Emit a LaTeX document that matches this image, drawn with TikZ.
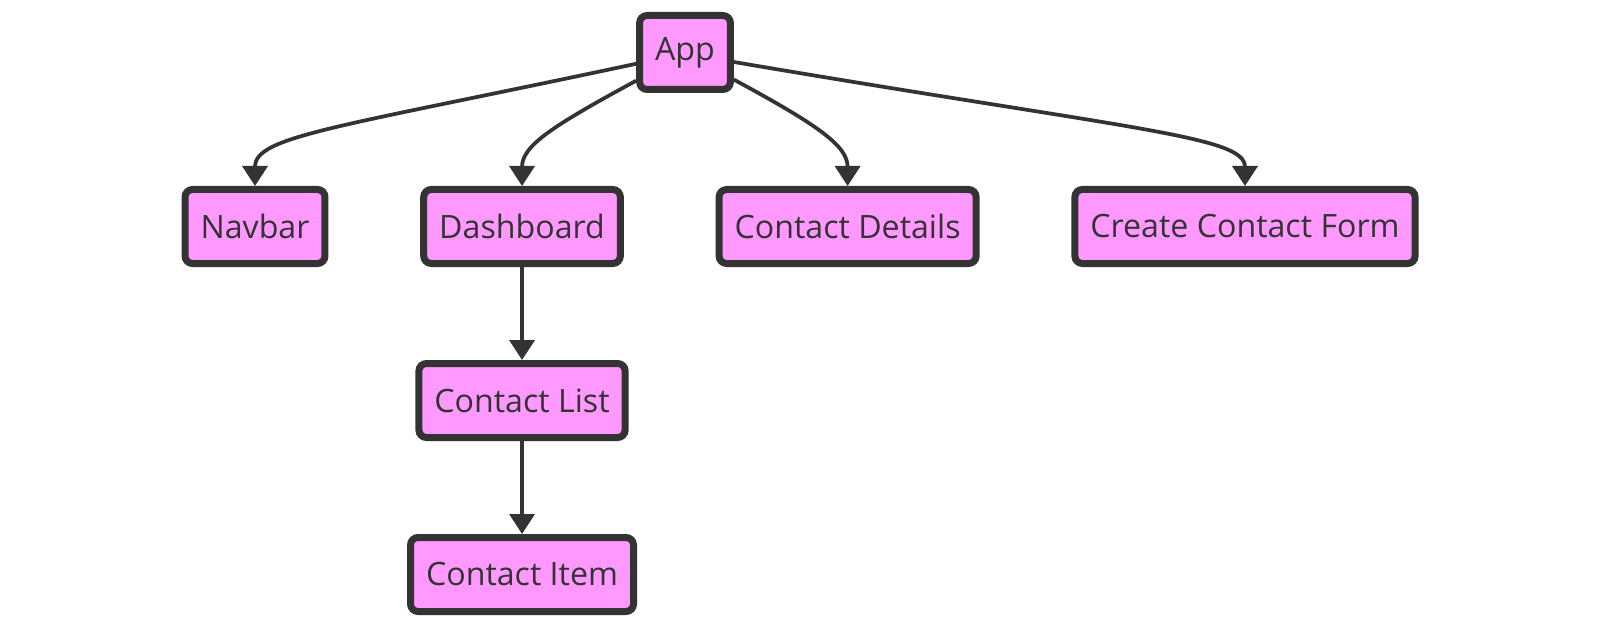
\documentclass[tikz,border=0pt]{standalone}
\usepackage{fontspec}
\setmainfont{Open Sans}
\usepackage{xcolor}
\usepackage{tikz}
\usetikzlibrary{positioning,arrows.meta}
\definecolor{cmpfill}{HTML}{FF99FF}
\definecolor{cmpdark}{HTML}{333333}

\begin{document}
\begin{tikzpicture}[
   node distance=1.86cm and 1.835cm,
   comp/.style={draw=cmpdark, line width=0.14cm, rounded corners=0.15cm,
                fill=cmpfill, minimum height=1.48cm, inner xsep=0.31cm,
                text=cmpdark, font=\fontsize{18.3}{22}\selectfont},
   link/.style={draw=cmpdark, line width=0.075cm, ->},
   >={Triangle[width=0.5cm, length=0.4cm]}]
  \useasboundingbox (0,0) rectangle (32,-12.56);
  \node[comp] (app) at (13.70,-1.05) {App};
  \node[comp] (navbar) at (5.10,-4.53) {Navbar};
  \node[comp, right=of navbar] (dash) {Dashboard};
  \node[comp, right=of dash] (details) {Contact Details};
  \node[comp, right=of details] (create) {Create Contact Form};
  \node[comp, below=of dash] (list) {Contact List};
  \node[comp, below=of list] (item) {Contact Item};
  % App children
  \draw[link] (app.193) .. controls +(-6.0,-1.28) and +(0,1.0) .. (navbar.north);
  \draw[link] (app.210) .. controls +(-1.7,-0.92) and +(0,0.8) .. (dash.north);
  \draw[link] (app.331) .. controls +(1.7,-0.92) and +(0,0.8) .. (details.north);
  \draw[link] (app.349) .. controls +(8.0,-1.36) and +(0,1.0) .. (create.north);
  \draw[link] (dash) -- (list);
  \draw[link] (list) -- (item);
\end{tikzpicture}
\end{document}
